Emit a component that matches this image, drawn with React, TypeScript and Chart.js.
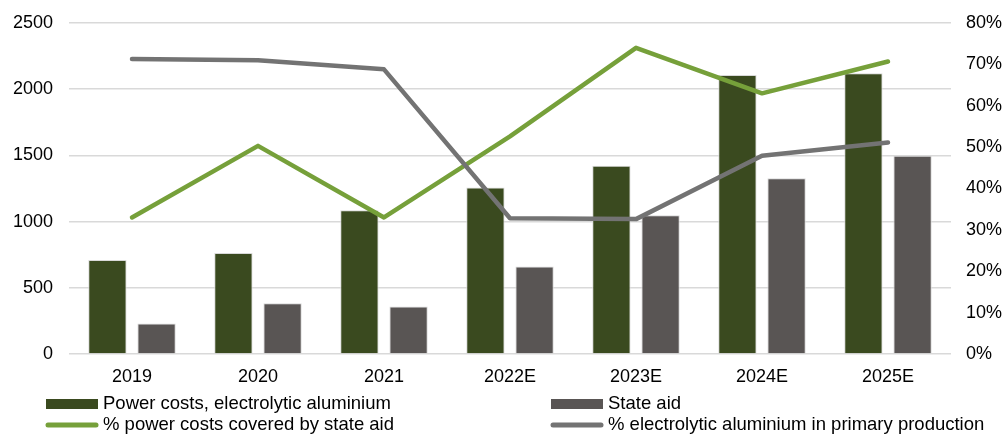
import React, { useEffect, useRef } from "react";
import { Chart, registerables } from "chart.js";

Chart.register(...registerables);

const categories = ["2019", "2020", "2021", "2022E", "2023E", "2024E", "2025E"];
const powerCosts = [710, 762, 1085, 1258, 1422, 2107, 2120];
const stateAid = [230, 383, 358, 660, 1048, 1328, 1498];
const pctCovered = [33.0, 50.3, 33.0, 52.6, 74.0, 63.0, 70.7];
const pctElectrolytic = [71.3, 71.0, 68.8, 32.8, 32.6, 47.9, 51.1];
const leftTicks = [0, 500, 1000, 1500, 2000, 2500];
const rightTicks = [0, 10, 20, 30, 40, 50, 60, 70, 80];

const seriesLabels = [
  "Power costs, electrolytic aluminium",
  "State aid",
  "% power costs covered by state aid",
  "% electrolytic aluminium in primary production",
];

const GREEN_BAR = "#3A4A1F";
const GRAY_BAR = "#595554";
const GREEN_LINE = "#76A03A";
const GRAY_LINE = "#737373";
const FONT = "'Liberation Sans', Arial, sans-serif";

const legendPlugin = {
  id: "customLegend",
  afterDraw(chart: any) {
    const ctx = chart.ctx;
    const ds = chart.data.datasets;
    const cols = [46, 551];
    const rows = [404, 425];
    ctx.save();
    ctx.font = `18.5px ${FONT}`;
    ctx.textBaseline = "middle";
    ctx.fillStyle = "#000";
    ds.forEach((d: any, i: number) => {
      const col = cols[i % 2];
      const row = rows[Math.floor(i / 2)];
      if (d.type === "bar") {
        ctx.fillStyle = d.backgroundColor;
        ctx.fillRect(col, row - 5, 52, 10);
      } else {
        ctx.strokeStyle = d.borderColor;
        ctx.lineWidth = 5;
        ctx.lineCap = "round";
        ctx.beginPath();
        ctx.moveTo(col + 2, row);
        ctx.lineTo(col + 50, row);
        ctx.stroke();
      }
      ctx.fillStyle = "#000";
      ctx.fillText(d.label, col + 57, row);
    });
    ctx.restore();
  },
};

function fitY(width: number) {
  return (scale: any) => {
    scale.width = width;
    scale.paddingTop = 0;
    scale.paddingBottom = 0;
  };
}

export default function App() {
  const ref = useRef<HTMLCanvasElement>(null);
  useEffect(() => {
    if (!ref.current) return;
    const chart = new Chart(ref.current, {
      type: "bar",
      data: {
        labels: categories,
        datasets: [
          {
            type: "bar",
            label: seriesLabels[0],
            data: powerCosts,
            backgroundColor: GREEN_BAR,
            borderColor: "#D9D9D9",
            borderWidth: 1,
            yAxisID: "y",
            order: 2,
            categoryPercentage: 0.78,
            barPercentage: 0.78,
          },
          {
            type: "bar",
            label: seriesLabels[1],
            data: stateAid,
            backgroundColor: GRAY_BAR,
            borderColor: "#D9D9D9",
            borderWidth: 1,
            yAxisID: "y",
            order: 2,
            categoryPercentage: 0.78,
            barPercentage: 0.78,
          },
          {
            type: "line",
            label: seriesLabels[2],
            data: pctCovered,
            borderColor: GREEN_LINE,
            backgroundColor: GREEN_LINE,
            borderWidth: 4.5,
            pointRadius: 0,
            borderCapStyle: "round",
            borderJoinStyle: "round",
            yAxisID: "y1",
            order: 1,
          },
          {
            type: "line",
            label: seriesLabels[3],
            data: pctElectrolytic,
            borderColor: GRAY_LINE,
            backgroundColor: GRAY_LINE,
            borderWidth: 4.5,
            pointRadius: 0,
            borderCapStyle: "round",
            borderJoinStyle: "round",
            yAxisID: "y1",
            order: 0,
          },
        ] as any,
      },
      options: {
        animation: false,
        responsive: false,
        maintainAspectRatio: false,
        layout: { padding: { top: 23, bottom: 44, left: 0, right: 0 } },
        plugins: {
          legend: { display: false },
          tooltip: { enabled: false },
        },
        scales: {
          x: {
            grid: { display: false, drawTicks: false },
            border: { display: false },
            ticks: { color: "#000", font: { family: FONT, size: 18 }, padding: 12 },
            afterFit(scale: any) {
              scale.height = 38;
              scale.paddingLeft = 0;
              scale.paddingRight = 0;
            },
          },
          y: {
            position: "left",
            min: 0,
            max: 2500,
            afterBuildTicks(scale: any) {
              scale.ticks = leftTicks.map((v) => ({ value: v }));
            },
            grid: { color: "#D9D9D9", lineWidth: 1.5, drawTicks: false },
            border: { display: false },
            ticks: {
              color: "#000",
              font: { family: FONT, size: 18 },
              padding: 16,
              callback: (v: any) => String(v),
            },
            afterFit: fitY(69),
          },
          y1: {
            position: "right",
            min: 0,
            max: 80,
            afterBuildTicks(scale: any) {
              scale.ticks = rightTicks.map((v) => ({ value: v }));
            },
            grid: { display: false, drawTicks: false },
            border: { display: false },
            ticks: {
              color: "#000",
              font: { family: FONT, size: 18 },
              padding: 15,
              callback: (v: any) => `${v}%`,
            },
            afterFit: fitY(53),
          },
        },
      } as any,
      plugins: [legendPlugin],
    });
    return () => chart.destroy();
  }, []);
  return (
    <div style={{ position: "fixed", left: 0, top: 0, width: 1004, height: 436, background: "#fff" }}>
      <canvas ref={ref} width={1004} height={436} style={{ width: 1004, height: 436 }} />
    </div>
  );
}
